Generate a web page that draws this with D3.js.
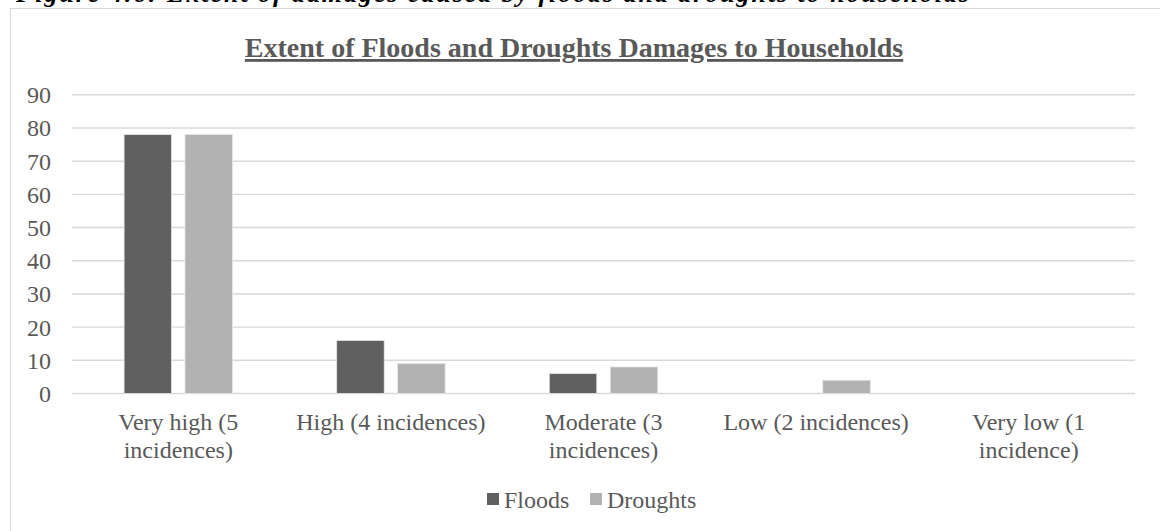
<!DOCTYPE html>
<html>
<head>
<meta charset="utf-8">
<script src="https://cdn.jsdelivr.net/npm/d3@7"></script>
<style>
  html, body { margin: 0; padding: 0; background: #ffffff; }
  svg { display: block; }
  text { font-family: "Liberation Serif", "Times New Roman", serif; }
</style>
</head>
<body>
<svg id="chart" width="1160" height="531"></svg>
<script>
// Damage levels (categories along the x axis)
const categories = [
  "Very high (5 incidences)",
  "High (4 incidences)",
  "Moderate (3 incidences)",
  "Low (2 incidences)",
  "Very low (1 incidence)"
];
const seriesNames = ["Floods", "Droughts"];
const floods = [78, 16, 6, 0, 0];
const droughts = [78, 9, 8, 4, 0];
const yTicks = [0, 10, 20, 30, 40, 50, 60, 70, 80, 90];

const chartTitle = "Extent of Floods and Droughts Damages to Households";
const figureCaption = "Figure 4.6: Extent of damages caused by floods and droughts to households";

const colors = { Floods: "#606060", Droughts: "#b2b2b2" };
const textColor = "#595959";
const gridColor = "#d9d9d9";

const svg = d3.select("#chart");

// Caption line above the chart frame
svg.append("text")
  .attr("x", 16)
  .attr("y", 2)
  .attr("font-size", 26)
  .attr("font-weight", "bold")
  .attr("font-style", "italic")
  .attr("fill", "#000")
  .attr("textLength", 953)
  .attr("lengthAdjust", "spacing")
  .text(figureCaption);

// Chart frame
svg.append("rect")
  .attr("x", 10.5).attr("y", 8.5)
  .attr("width", 1200).attr("height", 600)
  .attr("fill", "#fff")
  .attr("stroke", gridColor)
  .attr("stroke-width", 1);

// Title (underlined)
svg.append("text")
  .attr("x", 574)
  .attr("y", 57)
  .attr("text-anchor", "middle")
  .attr("font-size", 28)
  .attr("font-weight", "bold")
  .attr("fill", textColor)
  .attr("text-decoration", "underline")
  .text(chartTitle);

const plot = { left: 72, right: 1135, top: 94.8, bottom: 393.5 };

const y = d3.scaleLinear().domain([0, 90]).range([plot.bottom, plot.top]);
const x0 = d3.scaleBand().domain(categories).range([plot.left, plot.right]).padding(0);
const groupWidth = x0.bandwidth() * 0.51;
const x1 = d3.scaleBand().domain(seriesNames).range([0, groupWidth]).paddingInner(0.22).paddingOuter(0);

// Gridlines
svg.append("g")
  .selectAll("line")
  .data(yTicks)
  .join("line")
  .attr("x1", plot.left).attr("x2", plot.right)
  .attr("y1", d => y(d)).attr("y2", d => y(d))
  .attr("stroke", gridColor)
  .attr("stroke-width", 1.4);

// Y tick labels
svg.append("g")
  .selectAll("text")
  .data(yTicks)
  .join("text")
  .attr("x", 51)
  .attr("y", d => y(d) + 8.5)
  .attr("text-anchor", "end")
  .attr("font-size", 24)
  .attr("fill", textColor)
  .text(d => d);

// Bars
const rows = categories.map((c, i) => ({ cat: c, Floods: floods[i], Droughts: droughts[i] }));
const groups = svg.append("g")
  .selectAll("g")
  .data(rows)
  .join("g")
  .attr("transform", d => `translate(${x0(d.cat) + (x0.bandwidth() - groupWidth) / 2},0)`);

groups.selectAll("rect")
  .data(d => seriesNames.map(s => ({ key: s, value: d[s] })).filter(v => v.value > 0))
  .join("rect")
  .attr("x", d => x1(d.key))
  .attr("y", d => y(d.value))
  .attr("width", x1.bandwidth())
  .attr("height", d => y(0) - y(d.value))
  .attr("fill", d => colors[d.key])
  .attr("stroke", "#e6e6e6")
  .attr("stroke-width", 0.8);

// Category labels, wrapped to the band width
const maxLabelWidth = x0.bandwidth() - 10;
const catLabels = svg.append("g")
  .selectAll("text")
  .data(categories)
  .join("text")
  .attr("x", d => x0(d) + x0.bandwidth() / 2)
  .attr("y", 430)
  .attr("text-anchor", "middle")
  .attr("font-size", 24)
  .attr("fill", textColor);

catLabels.each(function(d) {
  const el = d3.select(this);
  const words = d.split(" ");
  const cx = +el.attr("x");
  let line = [];
  let lineNo = 0;
  let tspan = el.append("tspan").attr("x", cx).attr("dy", 0);
  words.forEach(w => {
    line.push(w);
    tspan.text(line.join(" "));
    if (tspan.node().getComputedTextLength() > maxLabelWidth && line.length > 1) {
      line.pop();
      tspan.text(line.join(" "));
      line = [w];
      lineNo++;
      tspan = el.append("tspan").attr("x", cx).attr("dy", 28).text(w);
    }
  });
});

// Legend
const legend = svg.append("g").attr("transform", "translate(487,493)");
const legendX = [0, 103];
seriesNames.forEach((s, i) => {
  const g = legend.append("g").attr("transform", `translate(${legendX[i]},0)`);
  g.append("rect")
    .attr("width", 12).attr("height", 12)
    .attr("fill", colors[s]);
  g.append("text")
    .attr("x", 17)
    .attr("y", 15)
    .attr("font-size", 24)
    .attr("fill", textColor)
    .text(s);
});
</script>
</body>
</html>
